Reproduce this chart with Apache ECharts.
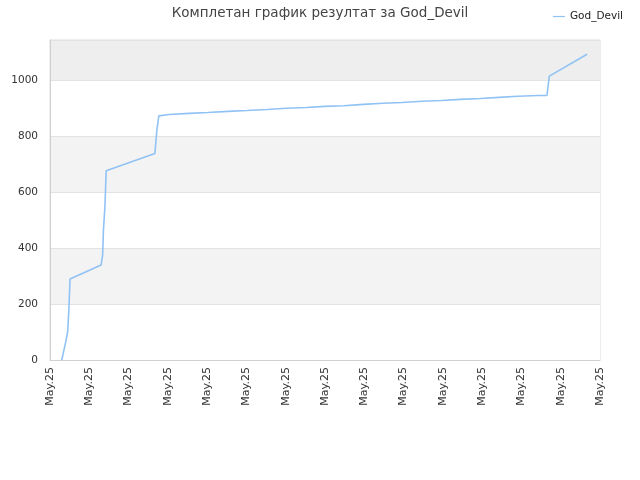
<!DOCTYPE html>
<html><head><meta charset="utf-8">
<script src="https://cdn.jsdelivr.net/npm/echarts@6/dist/echarts.min.js"></script>
<style>html,body{margin:0;padding:0;background:#fff}#c{width:640px;height:480px}</style>
</head><body><div id="c"></div>
<script>
var titleText = 'Комплетан график резултат за God_Devil';
var seriesName = 'God_Devil';
var tickLabels = ['May.25','May.25','May.25','May.25','May.25','May.25','May.25','May.25','May.25','May.25','May.25','May.25','May.25','May.25','May.25'];
var xVals = [0.30,0.41,0.45,0.48,0.51,1.30,1.34,1.36,1.40,1.43,2.67,2.72,2.77,3.03,3.54,4.02,4.53,5.01,5.52,6.01,6.52,7.00,7.48,7.97,8.48,8.96,9.47,9.95,10.44,10.95,11.43,11.91,12.42,12.65,12.71,13.67];
var yVals = [0,71,101,179,289,339,375,464,553,676,738,821,872,877,881,884,888,891,895,899,902,906,908,913,917,920,924,927,931,934,938,942,945,945,1014,1092];
var data = xVals.map(function(x,i){return [x,yVals[i]];});
var chart = echarts.init(document.getElementById('c'));
chart.setOption({
  animation:false,
  title:{text:titleText,left:'center',top:1,textStyle:{fontSize:13.5,fontWeight:'normal',color:'#444',fontFamily:'DejaVu Sans'}},
  legend:{data:[{name:seriesName,icon:'path://M0,0 L10,0 L10,1 L0,1 Z'}],right:12,top:6,itemWidth:12,itemHeight:2,itemGap:6,textStyle:{fontSize:10.5,color:'#222',fontFamily:'DejaVu Sans'}},
  grid:{left:50,right:40,top:40,bottom:120,show:true,borderColor:'#dcdcdc',borderWidth:1,backgroundColor:'transparent'},
  xAxis:{type:'value',min:0,max:14,interval:1,
    axisLine:{show:true,lineStyle:{color:'#d0d0d0'}},axisTick:{show:false},
    splitLine:{show:false},
    axisLabel:{rotate:90,fontSize:11,color:'#333',fontFamily:'DejaVu Sans',margin:7,
      formatter:function(v){return tickLabels[Math.round(v)]||'';},showMinLabel:true,showMaxLabel:true}},
  yAxis:{type:'value',min:0,max:1143,interval:200,
    axisLine:{show:true,lineStyle:{color:'#d0d0d0'}},axisTick:{show:false},
    axisLabel:{fontSize:10.5,color:'#333',fontFamily:'DejaVu Sans',margin:12,showMaxLabel:false,formatter:function(v){return String(v);}},
    splitLine:{show:true,lineStyle:{color:'#e2e2e2'}},
    splitArea:{show:true,areaStyle:{color:['#ffffff','#f3f3f3','#ffffff','#f3f3f3','#ffffff','#eeeeee']}}},
  series:[{name:seriesName,type:'line',data:data,showSymbol:false,symbol:'none',
    lineStyle:{color:'#90c2f4',width:1.6},itemStyle:{color:'#90c2f4'}}]
});
</script></body></html>
